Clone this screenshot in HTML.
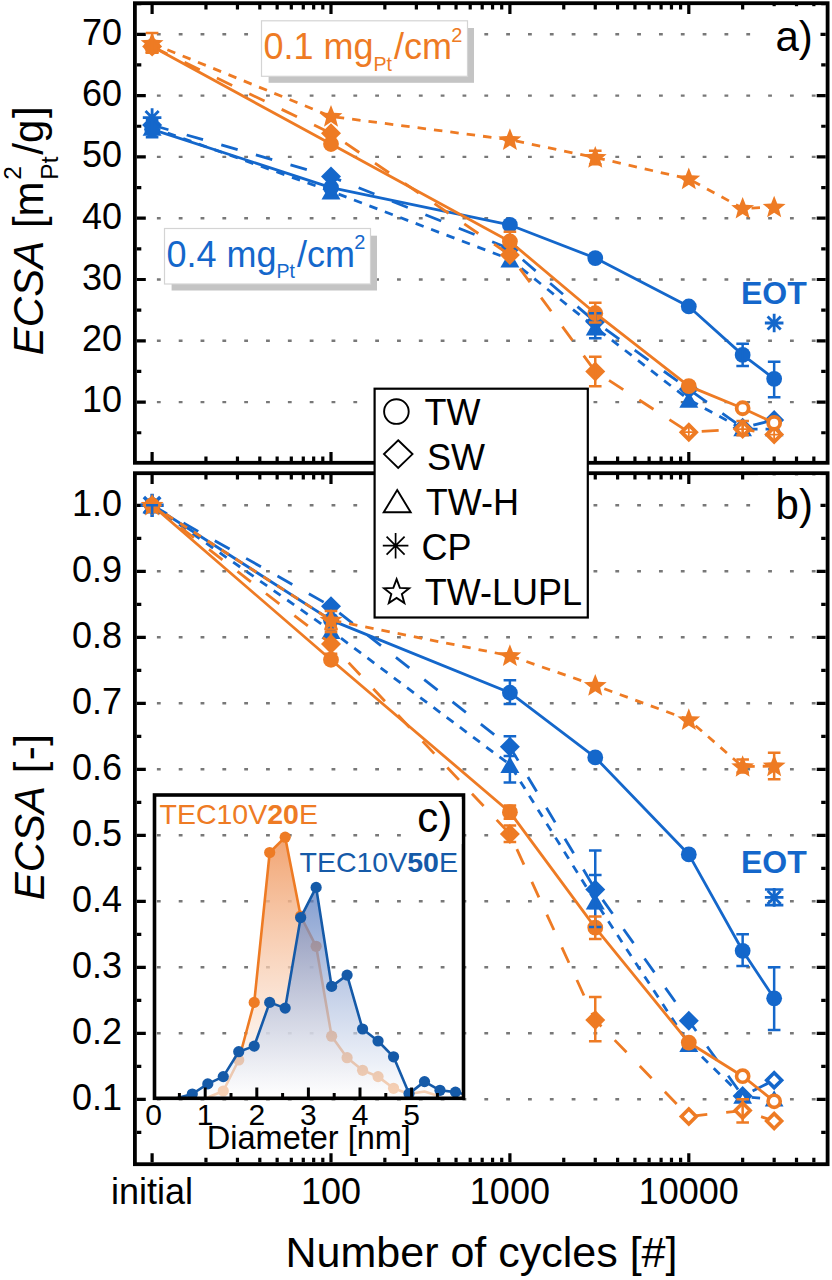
<!DOCTYPE html><html><head><meta charset="utf-8"><style>html,body{margin:0;padding:0;background:#fff;}svg{display:block;}</style></head><body><svg width="832" height="1280" viewBox="0 0 832 1280" font-family='"Liberation Sans", sans-serif'>
<rect width="832" height="1280" fill="#fff"/>
<line x1="156.9" y1="402.1" x2="824.6" y2="402.1" stroke="#787878" stroke-width="2.4" stroke-dasharray="3.8 18.03"/>
<line x1="156.9" y1="340.8" x2="824.6" y2="340.8" stroke="#787878" stroke-width="2.4" stroke-dasharray="3.8 18.03"/>
<line x1="156.9" y1="279.5" x2="824.6" y2="279.5" stroke="#787878" stroke-width="2.4" stroke-dasharray="3.8 18.03"/>
<line x1="156.9" y1="218.2" x2="824.6" y2="218.2" stroke="#787878" stroke-width="2.4" stroke-dasharray="3.8 18.03"/>
<line x1="156.9" y1="156.9" x2="824.6" y2="156.9" stroke="#787878" stroke-width="2.4" stroke-dasharray="3.8 18.03"/>
<line x1="156.9" y1="95.6" x2="824.6" y2="95.6" stroke="#787878" stroke-width="2.4" stroke-dasharray="3.8 18.03"/>
<line x1="156.9" y1="34.3" x2="824.6" y2="34.3" stroke="#787878" stroke-width="2.4" stroke-dasharray="3.8 18.03"/>
<line x1="156.9" y1="1099.3" x2="824.6" y2="1099.3" stroke="#787878" stroke-width="2.4" stroke-dasharray="3.8 18.03"/>
<line x1="156.9" y1="1033.3" x2="824.6" y2="1033.3" stroke="#787878" stroke-width="2.4" stroke-dasharray="3.8 18.03"/>
<line x1="156.9" y1="967.3" x2="824.6" y2="967.3" stroke="#787878" stroke-width="2.4" stroke-dasharray="3.8 18.03"/>
<line x1="156.9" y1="901.3" x2="824.6" y2="901.3" stroke="#787878" stroke-width="2.4" stroke-dasharray="3.8 18.03"/>
<line x1="156.9" y1="835.3" x2="824.6" y2="835.3" stroke="#787878" stroke-width="2.4" stroke-dasharray="3.8 18.03"/>
<line x1="156.9" y1="769.3" x2="824.6" y2="769.3" stroke="#787878" stroke-width="2.4" stroke-dasharray="3.8 18.03"/>
<line x1="156.9" y1="703.3" x2="824.6" y2="703.3" stroke="#787878" stroke-width="2.4" stroke-dasharray="3.8 18.03"/>
<line x1="156.9" y1="637.3" x2="824.6" y2="637.3" stroke="#787878" stroke-width="2.4" stroke-dasharray="3.8 18.03"/>
<line x1="156.9" y1="571.3" x2="824.6" y2="571.3" stroke="#787878" stroke-width="2.4" stroke-dasharray="3.8 18.03"/>
<line x1="156.9" y1="505.3" x2="824.6" y2="505.3" stroke="#787878" stroke-width="2.4" stroke-dasharray="3.8 18.03"/>
<defs><linearGradient id="gO" gradientUnits="userSpaceOnUse" x1="0" y1="837" x2="0" y2="1098"><stop offset="0" stop-color="#f09a62" stop-opacity="0.9"/><stop offset="1" stop-color="#ffffff" stop-opacity="0.6"/></linearGradient><linearGradient id="gB" gradientUnits="userSpaceOnUse" x1="0" y1="887" x2="0" y2="1098"><stop offset="0" stop-color="#5578bd" stop-opacity="0.74"/><stop offset="1" stop-color="#ffffff" stop-opacity="0.66"/></linearGradient><clipPath id="cI"><rect x="154.5" y="795" width="309" height="303.3"/></clipPath></defs>
<path d="M136.8 402.1h9M825.7 402.1h-9" stroke="#000" stroke-width="3.2"/>
<path d="M136.8 340.8h9M825.7 340.8h-9" stroke="#000" stroke-width="3.2"/>
<path d="M136.8 279.5h9M825.7 279.5h-9" stroke="#000" stroke-width="3.2"/>
<path d="M136.8 218.2h9M825.7 218.2h-9" stroke="#000" stroke-width="3.2"/>
<path d="M136.8 156.9h9M825.7 156.9h-9" stroke="#000" stroke-width="3.2"/>
<path d="M136.8 95.6h9M825.7 95.6h-9" stroke="#000" stroke-width="3.2"/>
<path d="M136.8 34.3h9M825.7 34.3h-9" stroke="#000" stroke-width="3.2"/>
<path d="M136.8 432.75h4.5M825.7 432.75h-4.5" stroke="#000" stroke-width="3.2"/>
<path d="M136.8 371.45h4.5M825.7 371.45h-4.5" stroke="#000" stroke-width="3.2"/>
<path d="M136.8 310.15h4.5M825.7 310.15h-4.5" stroke="#000" stroke-width="3.2"/>
<path d="M136.8 248.85h4.5M825.7 248.85h-4.5" stroke="#000" stroke-width="3.2"/>
<path d="M136.8 187.55h4.5M825.7 187.55h-4.5" stroke="#000" stroke-width="3.2"/>
<path d="M136.8 126.25h4.5M825.7 126.25h-4.5" stroke="#000" stroke-width="3.2"/>
<path d="M136.8 64.95h4.5M825.7 64.95h-4.5" stroke="#000" stroke-width="3.2"/>
<path d="M136.8 3.65h4.5M825.7 3.65h-4.5" stroke="#000" stroke-width="3.2"/>
<path d="M152.1 5.1v9M152.1 460.90000000000003v-9" stroke="#000" stroke-width="3.2"/>
<path d="M331 5.1v9M331 460.90000000000003v-9" stroke="#000" stroke-width="3.2"/>
<path d="M509.9 5.1v9M509.9 460.90000000000003v-9" stroke="#000" stroke-width="3.2"/>
<path d="M688.8 5.1v9M688.8 460.90000000000003v-9" stroke="#000" stroke-width="3.2"/>
<path d="M205.95 5.1v4.5M205.95 460.90000000000003v-4.5" stroke="#000" stroke-width="3.2"/>
<path d="M237.46 5.1v4.5M237.46 460.90000000000003v-4.5" stroke="#000" stroke-width="3.2"/>
<path d="M259.81 5.1v4.5M259.81 460.90000000000003v-4.5" stroke="#000" stroke-width="3.2"/>
<path d="M277.15 5.1v4.5M277.15 460.90000000000003v-4.5" stroke="#000" stroke-width="3.2"/>
<path d="M291.31 5.1v4.5M291.31 460.90000000000003v-4.5" stroke="#000" stroke-width="3.2"/>
<path d="M303.29 5.1v4.5M303.29 460.90000000000003v-4.5" stroke="#000" stroke-width="3.2"/>
<path d="M313.66 5.1v4.5M313.66 460.90000000000003v-4.5" stroke="#000" stroke-width="3.2"/>
<path d="M322.81 5.1v4.5M322.81 460.90000000000003v-4.5" stroke="#000" stroke-width="3.2"/>
<path d="M384.85 5.1v4.5M384.85 460.90000000000003v-4.5" stroke="#000" stroke-width="3.2"/>
<path d="M416.36 5.1v4.5M416.36 460.90000000000003v-4.5" stroke="#000" stroke-width="3.2"/>
<path d="M438.71 5.1v4.5M438.71 460.90000000000003v-4.5" stroke="#000" stroke-width="3.2"/>
<path d="M456.05 5.1v4.5M456.05 460.90000000000003v-4.5" stroke="#000" stroke-width="3.2"/>
<path d="M470.21 5.1v4.5M470.21 460.90000000000003v-4.5" stroke="#000" stroke-width="3.2"/>
<path d="M482.19 5.1v4.5M482.19 460.90000000000003v-4.5" stroke="#000" stroke-width="3.2"/>
<path d="M492.56 5.1v4.5M492.56 460.90000000000003v-4.5" stroke="#000" stroke-width="3.2"/>
<path d="M501.71 5.1v4.5M501.71 460.90000000000003v-4.5" stroke="#000" stroke-width="3.2"/>
<path d="M563.75 5.1v4.5M563.75 460.90000000000003v-4.5" stroke="#000" stroke-width="3.2"/>
<path d="M595.26 5.1v4.5M595.26 460.90000000000003v-4.5" stroke="#000" stroke-width="3.2"/>
<path d="M617.61 5.1v4.5M617.61 460.90000000000003v-4.5" stroke="#000" stroke-width="3.2"/>
<path d="M634.95 5.1v4.5M634.95 460.90000000000003v-4.5" stroke="#000" stroke-width="3.2"/>
<path d="M649.11 5.1v4.5M649.11 460.90000000000003v-4.5" stroke="#000" stroke-width="3.2"/>
<path d="M661.09 5.1v4.5M661.09 460.90000000000003v-4.5" stroke="#000" stroke-width="3.2"/>
<path d="M671.46 5.1v4.5M671.46 460.90000000000003v-4.5" stroke="#000" stroke-width="3.2"/>
<path d="M680.61 5.1v4.5M680.61 460.90000000000003v-4.5" stroke="#000" stroke-width="3.2"/>
<path d="M742.65 5.1v4.5M742.65 460.90000000000003v-4.5" stroke="#000" stroke-width="3.2"/>
<path d="M774.16 5.1v4.5M774.16 460.90000000000003v-4.5" stroke="#000" stroke-width="3.2"/>
<path d="M796.51 5.1v4.5M796.51 460.90000000000003v-4.5" stroke="#000" stroke-width="3.2"/>
<path d="M813.85 5.1v4.5M813.85 460.90000000000003v-4.5" stroke="#000" stroke-width="3.2"/>
<rect x="134.9" y="3.2" width="692.7" height="459.6" fill="none" stroke="#000" stroke-width="3.8"/>
<path d="M136.8 1099.3h9M825.7 1099.3h-9" stroke="#000" stroke-width="3.2"/>
<path d="M136.8 1033.3h9M825.7 1033.3h-9" stroke="#000" stroke-width="3.2"/>
<path d="M136.8 967.3h9M825.7 967.3h-9" stroke="#000" stroke-width="3.2"/>
<path d="M136.8 901.3h9M825.7 901.3h-9" stroke="#000" stroke-width="3.2"/>
<path d="M136.8 835.3h9M825.7 835.3h-9" stroke="#000" stroke-width="3.2"/>
<path d="M136.8 769.3h9M825.7 769.3h-9" stroke="#000" stroke-width="3.2"/>
<path d="M136.8 703.3h9M825.7 703.3h-9" stroke="#000" stroke-width="3.2"/>
<path d="M136.8 637.3h9M825.7 637.3h-9" stroke="#000" stroke-width="3.2"/>
<path d="M136.8 571.3h9M825.7 571.3h-9" stroke="#000" stroke-width="3.2"/>
<path d="M136.8 505.3h9M825.7 505.3h-9" stroke="#000" stroke-width="3.2"/>
<path d="M136.8 1132.3h4.5M825.7 1132.3h-4.5" stroke="#000" stroke-width="3.2"/>
<path d="M136.8 1066.3h4.5M825.7 1066.3h-4.5" stroke="#000" stroke-width="3.2"/>
<path d="M136.8 1000.3h4.5M825.7 1000.3h-4.5" stroke="#000" stroke-width="3.2"/>
<path d="M136.8 934.3h4.5M825.7 934.3h-4.5" stroke="#000" stroke-width="3.2"/>
<path d="M136.8 868.3h4.5M825.7 868.3h-4.5" stroke="#000" stroke-width="3.2"/>
<path d="M136.8 802.3h4.5M825.7 802.3h-4.5" stroke="#000" stroke-width="3.2"/>
<path d="M136.8 736.3h4.5M825.7 736.3h-4.5" stroke="#000" stroke-width="3.2"/>
<path d="M136.8 670.3h4.5M825.7 670.3h-4.5" stroke="#000" stroke-width="3.2"/>
<path d="M136.8 604.3h4.5M825.7 604.3h-4.5" stroke="#000" stroke-width="3.2"/>
<path d="M136.8 538.3h4.5M825.7 538.3h-4.5" stroke="#000" stroke-width="3.2"/>
<path d="M152.1 475.09999999999997v9M152.1 1162.3v-9" stroke="#000" stroke-width="3.2"/>
<path d="M331 475.09999999999997v9M331 1162.3v-9" stroke="#000" stroke-width="3.2"/>
<path d="M509.9 475.09999999999997v9M509.9 1162.3v-9" stroke="#000" stroke-width="3.2"/>
<path d="M688.8 475.09999999999997v9M688.8 1162.3v-9" stroke="#000" stroke-width="3.2"/>
<path d="M205.95 475.09999999999997v4.5M205.95 1162.3v-4.5" stroke="#000" stroke-width="3.2"/>
<path d="M237.46 475.09999999999997v4.5M237.46 1162.3v-4.5" stroke="#000" stroke-width="3.2"/>
<path d="M259.81 475.09999999999997v4.5M259.81 1162.3v-4.5" stroke="#000" stroke-width="3.2"/>
<path d="M277.15 475.09999999999997v4.5M277.15 1162.3v-4.5" stroke="#000" stroke-width="3.2"/>
<path d="M291.31 475.09999999999997v4.5M291.31 1162.3v-4.5" stroke="#000" stroke-width="3.2"/>
<path d="M303.29 475.09999999999997v4.5M303.29 1162.3v-4.5" stroke="#000" stroke-width="3.2"/>
<path d="M313.66 475.09999999999997v4.5M313.66 1162.3v-4.5" stroke="#000" stroke-width="3.2"/>
<path d="M322.81 475.09999999999997v4.5M322.81 1162.3v-4.5" stroke="#000" stroke-width="3.2"/>
<path d="M384.85 475.09999999999997v4.5M384.85 1162.3v-4.5" stroke="#000" stroke-width="3.2"/>
<path d="M416.36 475.09999999999997v4.5M416.36 1162.3v-4.5" stroke="#000" stroke-width="3.2"/>
<path d="M438.71 475.09999999999997v4.5M438.71 1162.3v-4.5" stroke="#000" stroke-width="3.2"/>
<path d="M456.05 475.09999999999997v4.5M456.05 1162.3v-4.5" stroke="#000" stroke-width="3.2"/>
<path d="M470.21 475.09999999999997v4.5M470.21 1162.3v-4.5" stroke="#000" stroke-width="3.2"/>
<path d="M482.19 475.09999999999997v4.5M482.19 1162.3v-4.5" stroke="#000" stroke-width="3.2"/>
<path d="M492.56 475.09999999999997v4.5M492.56 1162.3v-4.5" stroke="#000" stroke-width="3.2"/>
<path d="M501.71 475.09999999999997v4.5M501.71 1162.3v-4.5" stroke="#000" stroke-width="3.2"/>
<path d="M563.75 475.09999999999997v4.5M563.75 1162.3v-4.5" stroke="#000" stroke-width="3.2"/>
<path d="M595.26 475.09999999999997v4.5M595.26 1162.3v-4.5" stroke="#000" stroke-width="3.2"/>
<path d="M617.61 475.09999999999997v4.5M617.61 1162.3v-4.5" stroke="#000" stroke-width="3.2"/>
<path d="M634.95 475.09999999999997v4.5M634.95 1162.3v-4.5" stroke="#000" stroke-width="3.2"/>
<path d="M649.11 475.09999999999997v4.5M649.11 1162.3v-4.5" stroke="#000" stroke-width="3.2"/>
<path d="M661.09 475.09999999999997v4.5M661.09 1162.3v-4.5" stroke="#000" stroke-width="3.2"/>
<path d="M671.46 475.09999999999997v4.5M671.46 1162.3v-4.5" stroke="#000" stroke-width="3.2"/>
<path d="M680.61 475.09999999999997v4.5M680.61 1162.3v-4.5" stroke="#000" stroke-width="3.2"/>
<path d="M742.65 475.09999999999997v4.5M742.65 1162.3v-4.5" stroke="#000" stroke-width="3.2"/>
<path d="M774.16 475.09999999999997v4.5M774.16 1162.3v-4.5" stroke="#000" stroke-width="3.2"/>
<path d="M796.51 475.09999999999997v4.5M796.51 1162.3v-4.5" stroke="#000" stroke-width="3.2"/>
<path d="M813.85 475.09999999999997v4.5M813.85 1162.3v-4.5" stroke="#000" stroke-width="3.2"/>
<rect x="134.9" y="473.2" width="692.7" height="691.0" fill="none" stroke="#000" stroke-width="3.8"/>
<rect x="758" y="6.2" width="62.5" height="56" fill="#fff"/>
<rect x="758" y="475.3" width="62.5" height="55" fill="#fff"/>
<rect x="154.5" y="795" width="309" height="303.3" fill="none"/>
<g clip-path="url(#cI)">
<path d="M207.78 1098.3L207.78 1097.5L223.26 1091L238.74 1060L254.22 1002.4L269.7 852.5L285.18 837.2L300.66 916L316.14 946.3L331.62 1036.2L347.1 1057.7L362.58 1070.3L378.06 1076.6L393.54 1088.3L409.02 1094L424.5 1091.5L439.98 1096.5L439.98 1098.3Z" fill="url(#gO)"/>
<path d="M207.78 1097.5L223.26 1091L238.74 1060L254.22 1002.4L269.7 852.5L285.18 837.2L300.66 916L316.14 946.3L331.62 1036.2L347.1 1057.7L362.58 1070.3L378.06 1076.6L393.54 1088.3L409.02 1094L424.5 1091.5L439.98 1096.5" fill="none" stroke="#EE7B24" stroke-width="2.6" stroke-linejoin="round"/>
<circle cx="223.26" cy="1091" r="5.6" fill="#EE7B24"/>
<circle cx="238.74" cy="1060" r="5.6" fill="#EE7B24"/>
<circle cx="254.22" cy="1002.4" r="5.6" fill="#EE7B24"/>
<circle cx="269.7" cy="852.5" r="5.6" fill="#EE7B24"/>
<circle cx="285.18" cy="837.2" r="5.6" fill="#EE7B24"/>
<circle cx="300.66" cy="916" r="5.6" fill="#EE7B24"/>
<circle cx="316.14" cy="946.3" r="5.6" fill="#EE7B24"/>
<circle cx="331.62" cy="1036.2" r="5.6" fill="#EE7B24"/>
<circle cx="347.1" cy="1057.7" r="5.6" fill="#EE7B24"/>
<circle cx="362.58" cy="1070.3" r="5.6" fill="#EE7B24"/>
<circle cx="378.06" cy="1076.6" r="5.6" fill="#EE7B24"/>
<circle cx="393.54" cy="1088.3" r="5.6" fill="#EE7B24"/>
<path d="M176.82 1098.3L192.3 1094L207.78 1083.9L223.26 1076.6L238.74 1051.7L254.22 1046.1L269.7 1002.4L285.18 1008.1L300.66 917.6L316.14 887.4L331.62 986.4L347.1 975.1L362.58 1029L378.06 1041L393.54 1056.8L409.02 1093.6L424.5 1081.6L439.98 1090.3L455.46 1092.1L470.94 1098.3Z" fill="url(#gB)"/>
<path d="M176.82 1098.3L192.3 1094L207.78 1083.9L223.26 1076.6L238.74 1051.7L254.22 1046.1L269.7 1002.4L285.18 1008.1L300.66 917.6L316.14 887.4L331.62 986.4L347.1 975.1L362.58 1029L378.06 1041L393.54 1056.8L409.02 1093.6L424.5 1081.6L439.98 1090.3L455.46 1092.1L470.94 1096" fill="none" stroke="#155AA8" stroke-width="2.6" stroke-linejoin="round"/>
<circle cx="192.3" cy="1094" r="5.6" fill="#155AA8"/>
<circle cx="207.78" cy="1083.9" r="5.6" fill="#155AA8"/>
<circle cx="223.26" cy="1076.6" r="5.6" fill="#155AA8"/>
<circle cx="238.74" cy="1051.7" r="5.6" fill="#155AA8"/>
<circle cx="254.22" cy="1046.1" r="5.6" fill="#155AA8"/>
<circle cx="269.7" cy="1002.4" r="5.6" fill="#155AA8"/>
<circle cx="285.18" cy="1008.1" r="5.6" fill="#155AA8"/>
<circle cx="300.66" cy="917.6" r="5.6" fill="#155AA8"/>
<circle cx="316.14" cy="887.4" r="5.6" fill="#155AA8"/>
<circle cx="331.62" cy="986.4" r="5.6" fill="#155AA8"/>
<circle cx="347.1" cy="975.1" r="5.6" fill="#155AA8"/>
<circle cx="362.58" cy="1029" r="5.6" fill="#155AA8"/>
<circle cx="378.06" cy="1041" r="5.6" fill="#155AA8"/>
<circle cx="393.54" cy="1056.8" r="5.6" fill="#155AA8"/>
<circle cx="409.02" cy="1093.6" r="5.6" fill="#155AA8"/>
<circle cx="424.5" cy="1081.6" r="5.6" fill="#155AA8"/>
<circle cx="439.98" cy="1090.3" r="5.6" fill="#155AA8"/>
<circle cx="455.46" cy="1092.1" r="5.6" fill="#155AA8"/>
</g>
<path d="M205.2 1097V1087.5" stroke="#000" stroke-width="3"/>
<path d="M256.8 1097V1087.5" stroke="#000" stroke-width="3"/>
<path d="M308.4 1097V1087.5" stroke="#000" stroke-width="3"/>
<path d="M360 1097V1087.5" stroke="#000" stroke-width="3"/>
<path d="M411.6 1097V1087.5" stroke="#000" stroke-width="3"/>
<path d="M179.4 1097V1093" stroke="#000" stroke-width="3"/>
<path d="M231 1097V1093" stroke="#000" stroke-width="3"/>
<path d="M282.6 1097V1093" stroke="#000" stroke-width="3"/>
<path d="M334.2 1097V1093" stroke="#000" stroke-width="3"/>
<path d="M385.8 1097V1093" stroke="#000" stroke-width="3"/>
<path d="M437.4 1097V1093" stroke="#000" stroke-width="3"/>
<rect x="154.5" y="795" width="309" height="303.3" fill="none" stroke="#000" stroke-width="3.6"/>
<path d="M152.1 125.02L331 176.52L509.9 248.85L595.26 321.8L688.8 389.23L742.65 427.85L774.16 419.88" fill="none" stroke="#1467CB" stroke-width="2.8" stroke-dasharray="17 19" stroke-linejoin="round"/>
<path d="M152.1 115.02L162.1 125.02L152.1 135.02L142.1 125.02Z" fill="#1467CB"/>
<path d="M331 166.52L341 176.52L331 186.52L321 176.52Z" fill="#1467CB"/>
<path d="M509.9 238.85L519.9 248.85L509.9 258.85L499.9 248.85Z" fill="#1467CB"/>
<path d="M595.26 311.8L605.26 321.8L595.26 331.8L585.26 321.8Z" fill="#1467CB"/>
<path d="M688.8 379.23L698.8 389.23L688.8 399.23L678.8 389.23Z" fill="#1467CB"/>
<path d="M742.65 417.85L752.65 427.85L742.65 437.85L732.65 427.85Z" fill="#1467CB"/>
<path d="M774.16 409.88L784.16 419.88L774.16 429.88L764.16 419.88Z" fill="#1467CB"/>
<path d="M152.1 127.48L331 191.23L509.9 259.27L595.26 327.31L688.8 399.65L742.65 429.07L774.16 429.07" fill="none" stroke="#1467CB" stroke-width="2.8" stroke-dasharray="8.5 8" stroke-linejoin="round"/>
<path d="M152.1 119.28L161.6 135.68L142.6 135.68Z" fill="#1467CB"/>
<path d="M331 183.03L340.5 199.43L321.5 199.43Z" fill="#1467CB"/>
<path d="M509.9 251.07L519.4 267.47L500.4 267.47Z" fill="#1467CB"/>
<path d="M595.26 319.11L604.76 335.51L585.76 335.51Z" fill="#1467CB"/>
<path d="M688.8 391.45L698.3 407.85L679.3 407.85Z" fill="#1467CB"/>
<path d="M742.65 423.82L748.73 434.32L736.57 434.32Z" fill="#fff" stroke="#1467CB" stroke-width="3.8"/>
<path d="M774.16 423.82L780.24 434.32L768.08 434.32Z" fill="#fff" stroke="#1467CB" stroke-width="3.8"/>
<path d="M152.1 129.31L331 187.55L509.9 224.94L595.26 258.05L688.8 306.47L742.65 354.9L774.16 378.81" fill="none" stroke="#1467CB" stroke-width="2.8" stroke-linejoin="round"/>
<circle cx="152.1" cy="129.31" r="7.9" fill="#1467CB"/>
<circle cx="331" cy="187.55" r="7.9" fill="#1467CB"/>
<circle cx="509.9" cy="224.94" r="7.9" fill="#1467CB"/>
<circle cx="595.26" cy="258.05" r="7.9" fill="#1467CB"/>
<circle cx="688.8" cy="306.47" r="7.9" fill="#1467CB"/>
<circle cx="742.65" cy="354.9" r="7.9" fill="#1467CB"/>
<circle cx="774.16" cy="378.81" r="7.9" fill="#1467CB"/>
<path d="M142.8 117.67L161.4 117.67M145.52 111.09L158.68 124.24M152.1 108.37L152.1 126.97M158.68 111.09L145.52 124.24" stroke="#1467CB" stroke-width="2.8" fill="none"/>
<path d="M764.86 323.02L783.46 323.02M767.58 316.45L780.73 329.6M774.16 313.72L774.16 332.32M780.73 316.45L767.58 329.6" stroke="#1467CB" stroke-width="2.8" fill="none"/>
<path d="M152.1 46.56L331 133.3L509.9 254.98L595.26 371.45L688.8 432.14L742.65 429.07L774.16 434.59" fill="none" stroke="#EE7B24" stroke-width="2.8" stroke-dasharray="17 19" stroke-linejoin="round"/>
<path d="M152.1 36.56L162.1 46.56L152.1 56.56L142.1 46.56Z" fill="#EE7B24"/>
<path d="M331 123.3L341 133.3L331 143.3L321 133.3Z" fill="#EE7B24"/>
<path d="M509.9 244.98L519.9 254.98L509.9 264.98L499.9 254.98Z" fill="#EE7B24"/>
<path d="M595.26 361.45L605.26 371.45L595.26 381.45L585.26 371.45Z" fill="#EE7B24"/>
<path d="M688.8 424.82L696.11 432.14L688.8 439.45L681.49 432.14Z" fill="#fff" stroke="#EE7B24" stroke-width="3.8"/>
<path d="M688.8 427.14V437.14M683.8 432.14H693.8" stroke="#EE7B24" stroke-width="1.8"/>
<path d="M742.65 421.76L749.97 429.07L742.65 436.39L735.34 429.07Z" fill="#fff" stroke="#EE7B24" stroke-width="3.8"/>
<path d="M742.65 424.07V434.07M737.65 429.07H747.65" stroke="#EE7B24" stroke-width="1.8"/>
<path d="M774.16 427.28L781.47 434.59L774.16 441.9L766.84 434.59Z" fill="#fff" stroke="#EE7B24" stroke-width="3.8"/>
<path d="M774.16 429.59V439.59M769.16 434.59H779.16" stroke="#EE7B24" stroke-width="1.8"/>
<path d="M152.1 46.56L331 144.03L509.9 241.49L595.26 313.22L688.8 386.16L742.65 408.23L774.16 422.94" fill="none" stroke="#EE7B24" stroke-width="2.8" stroke-linejoin="round"/>
<circle cx="152.1" cy="46.56" r="7.9" fill="#EE7B24"/>
<circle cx="331" cy="144.03" r="7.9" fill="#EE7B24"/>
<circle cx="509.9" cy="241.49" r="7.9" fill="#EE7B24"/>
<circle cx="595.26" cy="313.22" r="7.9" fill="#EE7B24"/>
<circle cx="688.8" cy="386.16" r="7.9" fill="#EE7B24"/>
<circle cx="742.65" cy="408.23" r="6" fill="#fff" stroke="#EE7B24" stroke-width="3.8"/>
<circle cx="774.16" cy="422.94" r="6" fill="#fff" stroke="#EE7B24" stroke-width="3.8"/>
<path d="M152.1 43.49L331 116.44L509.9 139.74L595.26 157.51L688.8 178.97L742.65 208.39L774.16 207.17" fill="none" stroke="#EE7B24" stroke-width="2.8" stroke-dasharray="8.5 8" stroke-linejoin="round"/>
<path d="M152.1 31.99L155.13 39.82L163.51 40.29L157.01 45.59L159.15 53.7L152.1 49.16L145.05 53.7L147.19 45.59L140.69 40.29L149.07 39.82Z" fill="#EE7B24"/>
<path d="M331 104.94L334.03 112.77L342.41 113.23L335.91 118.54L338.05 126.65L331 122.1L323.95 126.65L326.09 118.54L319.59 113.23L327.97 112.77Z" fill="#EE7B24"/>
<path d="M509.9 128.24L512.93 136.06L521.31 136.53L514.81 141.83L516.95 149.94L509.9 145.4L502.85 149.94L504.99 141.83L498.49 136.53L506.87 136.06Z" fill="#EE7B24"/>
<path d="M595.26 146.01L598.29 153.84L606.67 154.3L600.16 159.61L602.31 167.72L595.26 163.17L588.2 167.72L590.35 159.61L583.84 154.3L592.22 153.84Z" fill="#EE7B24"/>
<path d="M688.8 167.47L691.83 175.29L700.21 175.76L693.71 181.06L695.85 189.18L688.8 184.63L681.75 189.18L683.89 181.06L677.39 175.76L685.77 175.29Z" fill="#EE7B24"/>
<path d="M742.65 196.89L745.69 204.72L754.07 205.18L747.56 210.49L749.71 218.6L742.65 214.05L735.6 218.6L737.75 210.49L731.24 205.18L739.62 204.72Z" fill="#EE7B24"/>
<path d="M774.16 195.67L777.19 203.49L785.57 203.96L779.06 209.26L781.21 217.37L774.16 212.83L767.1 217.37L769.25 209.26L762.74 203.96L771.12 203.49Z" fill="#EE7B24"/>
<path d="M595.26 313.22V338.35M588.96 313.22H601.56M588.96 338.35H601.56" stroke="#1467CB" stroke-width="2.5" fill="none"/>
<path d="M152.1 120.12V137.28M145.8 120.12H158.4M145.8 137.28H158.4" stroke="#1467CB" stroke-width="2.5" fill="none"/>
<path d="M742.65 343.87V365.93M736.35 343.87H748.95M736.35 365.93H748.95" stroke="#1467CB" stroke-width="2.5" fill="none"/>
<path d="M774.16 361.64V397.2M767.86 361.64H780.46M767.86 397.2H780.46" stroke="#1467CB" stroke-width="2.5" fill="none"/>
<path d="M595.26 356.74V386.16M588.96 356.74H601.56M588.96 386.16H601.56" stroke="#EE7B24" stroke-width="2.5" fill="none"/>
<path d="M742.65 421.1V435.2M736.35 421.1H748.95M736.35 435.2H748.95" stroke="#EE7B24" stroke-width="2.5" fill="none"/>
<path d="M509.9 231.69V251.3M503.6 231.69H516.2M503.6 251.3H516.2" stroke="#EE7B24" stroke-width="2.5" fill="none"/>
<path d="M595.26 302.79V322.41M588.96 302.79H601.56M588.96 322.41H601.56" stroke="#EE7B24" stroke-width="2.5" fill="none"/>
<path d="M152.1 33.07V52.69M145.8 33.07H158.4M145.8 52.69H158.4" stroke="#EE7B24" stroke-width="2.5" fill="none"/>
<path d="M595.26 150.77V164.26M588.96 150.77H601.56M588.96 164.26H601.56" stroke="#EE7B24" stroke-width="2.5" fill="none"/>
<path d="M152.1 505.3L331 606.28L509.9 746.86L595.26 889.42L688.8 1020.76L742.65 1096L774.16 1080.16" fill="none" stroke="#1467CB" stroke-width="2.8" stroke-dasharray="17 19" stroke-linejoin="round"/>
<path d="M152.1 495.3L162.1 505.3L152.1 515.3L142.1 505.3Z" fill="#1467CB"/>
<path d="M331 596.28L341 606.28L331 616.28L321 606.28Z" fill="#1467CB"/>
<path d="M509.9 736.86L519.9 746.86L509.9 756.86L499.9 746.86Z" fill="#1467CB"/>
<path d="M595.26 879.42L605.26 889.42L595.26 899.42L585.26 889.42Z" fill="#1467CB"/>
<path d="M688.8 1010.76L698.8 1020.76L688.8 1030.76L678.8 1020.76Z" fill="#1467CB"/>
<path d="M742.65 1086L752.65 1096L742.65 1106L732.65 1096Z" fill="#1467CB"/>
<path d="M774.16 1072.71L781.61 1080.16L774.16 1087.61L766.7 1080.16Z" fill="#fff" stroke="#1467CB" stroke-width="3.6"/>
<path d="M152.1 505.3L331 630.7L509.9 764.68L595.26 901.3L688.8 1043.86L742.65 1096.66L774.16 1099.3" fill="none" stroke="#1467CB" stroke-width="2.8" stroke-dasharray="8.5 8" stroke-linejoin="round"/>
<path d="M152.1 497.1L161.6 513.5L142.6 513.5Z" fill="#1467CB"/>
<path d="M331 622.5L340.5 638.9L321.5 638.9Z" fill="#1467CB"/>
<path d="M509.9 756.48L519.4 772.88L500.4 772.88Z" fill="#1467CB"/>
<path d="M595.26 893.1L604.76 909.5L585.76 909.5Z" fill="#1467CB"/>
<path d="M688.8 1035.66L698.3 1052.06L679.3 1052.06Z" fill="#1467CB"/>
<path d="M742.65 1091.26L748.91 1102.06L736.39 1102.06Z" fill="#fff" stroke="#1467CB" stroke-width="3.6"/>
<path d="M774.16 1093.9L780.42 1104.7L767.9 1104.7Z" fill="#fff" stroke="#1467CB" stroke-width="3.6"/>
<path d="M152.1 505.3L331 620.14L509.9 692.74L595.26 757.42L688.8 854.44L742.65 950.8L774.16 998.32" fill="none" stroke="#1467CB" stroke-width="2.8" stroke-linejoin="round"/>
<circle cx="152.1" cy="505.3" r="7.9" fill="#1467CB"/>
<circle cx="331" cy="620.14" r="7.9" fill="#1467CB"/>
<circle cx="509.9" cy="692.74" r="7.9" fill="#1467CB"/>
<circle cx="595.26" cy="757.42" r="7.9" fill="#1467CB"/>
<circle cx="688.8" cy="854.44" r="7.9" fill="#1467CB"/>
<circle cx="742.65" cy="950.8" r="7.9" fill="#1467CB"/>
<circle cx="774.16" cy="998.32" r="7.9" fill="#1467CB"/>
<path d="M140.47 505.3L163.72 505.3M143.88 497.08L160.32 513.52M152.1 493.68L152.1 516.92M160.32 497.08L143.88 513.52" stroke="#1467CB" stroke-width="3.5" fill="none"/>
<path d="M764.86 897.34L783.46 897.34M767.58 890.76L780.73 903.92M774.16 888.04L774.16 906.64M780.73 890.76L767.58 903.92" stroke="#1467CB" stroke-width="2.8" fill="none"/>
<path d="M774.16 889.54V905.14M764.96 889.54H783.36M764.96 905.14H783.36" stroke="#1467CB" stroke-width="2.6" fill="none"/>
<path d="M152.1 505.3L331 643.9L509.9 833.98L595.26 1020.1L688.8 1116.46L742.65 1110.52L774.16 1121.08" fill="none" stroke="#EE7B24" stroke-width="2.8" stroke-dasharray="17 19" stroke-linejoin="round"/>
<path d="M152.1 495.3L162.1 505.3L152.1 515.3L142.1 505.3Z" fill="#EE7B24"/>
<path d="M331 633.9L341 643.9L331 653.9L321 643.9Z" fill="#EE7B24"/>
<path d="M509.9 823.98L519.9 833.98L509.9 843.98L499.9 833.98Z" fill="#EE7B24"/>
<path d="M595.26 1010.1L605.26 1020.1L595.26 1030.1L585.26 1020.1Z" fill="#EE7B24"/>
<path d="M688.8 1109.01L696.25 1116.46L688.8 1123.91L681.35 1116.46Z" fill="#fff" stroke="#EE7B24" stroke-width="3.6"/>
<path d="M742.65 1103.07L750.11 1110.52L742.65 1117.97L735.2 1110.52Z" fill="#fff" stroke="#EE7B24" stroke-width="3.6"/>
<path d="M774.16 1113.63L781.61 1121.08L774.16 1128.53L766.7 1121.08Z" fill="#fff" stroke="#EE7B24" stroke-width="3.6"/>
<path d="M152.1 505.3L331 659.74L509.9 812.2L595.26 927.7L688.8 1042.54L742.65 1076.2L774.16 1101.28" fill="none" stroke="#EE7B24" stroke-width="2.8" stroke-linejoin="round"/>
<circle cx="152.1" cy="505.3" r="7.9" fill="#EE7B24"/>
<circle cx="331" cy="659.74" r="7.9" fill="#EE7B24"/>
<circle cx="509.9" cy="812.2" r="7.9" fill="#EE7B24"/>
<circle cx="595.26" cy="927.7" r="7.9" fill="#EE7B24"/>
<circle cx="688.8" cy="1042.54" r="7.9" fill="#EE7B24"/>
<circle cx="742.65" cy="1076.2" r="6.1" fill="#fff" stroke="#EE7B24" stroke-width="3.6"/>
<circle cx="774.16" cy="1101.28" r="6.1" fill="#fff" stroke="#EE7B24" stroke-width="3.6"/>
<path d="M152.1 505.3L331 620.14L509.9 655.78L595.26 685.48L688.8 719.8L742.65 766.66L774.16 766" fill="none" stroke="#EE7B24" stroke-width="2.8" stroke-dasharray="8.5 8" stroke-linejoin="round"/>
<path d="M152.1 493.8L155.13 501.63L163.51 502.09L157.01 507.39L159.15 515.51L152.1 510.96L145.05 515.51L147.19 507.39L140.69 502.09L149.07 501.63Z" fill="#EE7B24"/>
<path d="M331 608.64L334.03 616.47L342.41 616.93L335.91 622.23L338.05 630.35L331 625.8L323.95 630.35L326.09 622.23L319.59 616.93L327.97 616.47Z" fill="#EE7B24"/>
<path d="M509.9 644.28L512.93 652.11L521.31 652.57L514.81 657.87L516.95 665.99L509.9 661.44L502.85 665.99L504.99 657.87L498.49 652.57L506.87 652.11Z" fill="#EE7B24"/>
<path d="M595.26 673.98L598.29 681.81L606.67 682.27L600.16 687.57L602.31 695.69L595.26 691.14L588.2 695.69L590.35 687.57L583.84 682.27L592.22 681.81Z" fill="#EE7B24"/>
<path d="M688.8 708.3L691.83 716.13L700.21 716.59L693.71 721.89L695.85 730.01L688.8 725.46L681.75 730.01L683.89 721.89L677.39 716.59L685.77 716.13Z" fill="#EE7B24"/>
<path d="M742.65 755.16L745.69 762.99L754.07 763.45L747.56 768.75L749.71 776.87L742.65 772.32L735.6 776.87L737.75 768.75L731.24 763.45L739.62 762.99Z" fill="#EE7B24"/>
<path d="M774.16 754.5L777.19 762.33L785.57 762.79L779.06 768.09L781.21 776.21L774.16 771.66L767.1 776.21L769.25 768.09L762.74 762.79L771.12 762.33Z" fill="#EE7B24"/>
<path d="M152.1 505.3V514.6M146.1 505.3H158.1" stroke="#1467CB" stroke-width="2.6" fill="none"/>
<path d="M509.9 736.3V756.1M503.6 736.3H516.2M503.6 756.1H516.2" stroke="#1467CB" stroke-width="2.5" fill="none"/>
<path d="M595.26 850.48V907.9M588.96 850.48H601.56M588.96 907.9H601.56" stroke="#1467CB" stroke-width="2.5" fill="none"/>
<path d="M509.9 747.52V782.5M503.6 747.52H516.2M503.6 782.5H516.2" stroke="#1467CB" stroke-width="2.5" fill="none"/>
<path d="M595.26 874.9V927.04M588.96 874.9H601.56M588.96 927.04H601.56" stroke="#1467CB" stroke-width="2.5" fill="none"/>
<path d="M509.9 680.2V703.96M503.6 680.2H516.2M503.6 703.96H516.2" stroke="#1467CB" stroke-width="2.5" fill="none"/>
<path d="M742.65 934.3V965.98M736.35 934.3H748.95M736.35 965.98H748.95" stroke="#1467CB" stroke-width="2.5" fill="none"/>
<path d="M774.16 967.3V1030M767.86 967.3H780.46M767.86 1030H780.46" stroke="#1467CB" stroke-width="2.5" fill="none"/>
<path d="M595.26 997V1041.22M588.96 997H601.56M588.96 1041.22H601.56" stroke="#EE7B24" stroke-width="2.5" fill="none"/>
<path d="M509.9 825.4V841.9M503.6 825.4H516.2M503.6 841.9H516.2" stroke="#EE7B24" stroke-width="2.5" fill="none"/>
<path d="M742.65 1099.3V1122.4M736.35 1099.3H748.95M736.35 1122.4H748.95" stroke="#EE7B24" stroke-width="2.5" fill="none"/>
<path d="M331 632.02V653.8M324.7 632.02H337.3M324.7 653.8H337.3" stroke="#EE7B24" stroke-width="2.5" fill="none"/>
<path d="M595.26 916.48V938.92M588.96 916.48H601.56M588.96 938.92H601.56" stroke="#EE7B24" stroke-width="2.5" fill="none"/>
<path d="M509.9 805.6V818.8M503.6 805.6H516.2M503.6 818.8H516.2" stroke="#EE7B24" stroke-width="2.5" fill="none"/>
<path d="M774.16 752.8V779.2M767.86 752.8H780.46M767.86 779.2H780.46" stroke="#EE7B24" stroke-width="2.5" fill="none"/>
<path d="M742.65 759.4V772.6M736.35 759.4H748.95M736.35 772.6H748.95" stroke="#EE7B24" stroke-width="2.5" fill="none"/>
<path d="M331 610.9V629.38M324.7 610.9H337.3M324.7 629.38H337.3" stroke="#EE7B24" stroke-width="2.5" fill="none"/>
<text x="122" y="412.4" font-size="36" text-anchor="end">10</text>
<text x="122" y="351.1" font-size="36" text-anchor="end">20</text>
<text x="122" y="289.8" font-size="36" text-anchor="end">30</text>
<text x="122" y="228.5" font-size="36" text-anchor="end">40</text>
<text x="122" y="167.2" font-size="36" text-anchor="end">50</text>
<text x="122" y="105.9" font-size="36" text-anchor="end">60</text>
<text x="122" y="44.6" font-size="36" text-anchor="end">70</text>
<text x="122" y="1109.6" font-size="36" text-anchor="end">0.1</text>
<text x="122" y="1043.6" font-size="36" text-anchor="end">0.2</text>
<text x="122" y="977.6" font-size="36" text-anchor="end">0.3</text>
<text x="122" y="911.6" font-size="36" text-anchor="end">0.4</text>
<text x="122" y="845.6" font-size="36" text-anchor="end">0.5</text>
<text x="122" y="779.6" font-size="36" text-anchor="end">0.6</text>
<text x="122" y="713.6" font-size="36" text-anchor="end">0.7</text>
<text x="122" y="647.6" font-size="36" text-anchor="end">0.8</text>
<text x="122" y="581.6" font-size="36" text-anchor="end">0.9</text>
<text x="122" y="515.6" font-size="36" text-anchor="end">1.0</text>
<text x="152.1" y="1204.2" font-size="36" text-anchor="middle">initial</text>
<text x="331" y="1204.2" font-size="36" text-anchor="middle">100</text>
<text x="509.9" y="1204.2" font-size="36" text-anchor="middle">1000</text>
<text x="688.8" y="1204.2" font-size="36" text-anchor="middle">10000</text>
<text x="481.5" y="1267" font-size="43" text-anchor="middle">Number of cycles [#]</text>
<g transform="translate(42.8 354.2) rotate(-90)" font-size="42"><text x="-1" y="0" font-style="italic">ECSA</text><text x="126.1" y="0">[</text><text x="137.7" y="0">m</text><text x="174.4" y="-21.7" font-size="24.5">2</text><text x="174.5" y="14.7" font-size="24.5">Pt</text><text x="199.4" y="0">/</text><text x="211.2" y="0">g</text><text x="236.2" y="0">]</text></g>
<g transform="translate(44.4 899.3) rotate(-90)" font-size="42"><text x="-1" y="0" font-style="italic">ECSA</text><text x="126" y="0">[</text><text x="139" y="0">-</text><text x="153.5" y="0">]</text></g>
<text x="775.4" y="51" font-size="42">a)</text>
<text x="775.6" y="518.7" font-size="42">b)</text>
<text x="741" y="303.6" font-size="32" font-weight="bold" fill="#1467CB">EOT</text>
<text x="741" y="872.7" font-size="32" font-weight="bold" fill="#1467CB">EOT</text>
<rect x="268.6" y="28" width="205.4" height="54.8" fill="#c4c4c4"/><rect x="261.5" y="20.8" width="206" height="55.5" fill="#fff" stroke="#d4d4d4" stroke-width="1.2"/><g fill="#EE7B24"><text x="263.4" y="59.3" font-size="36">0.1 mg</text><text x="373.4" y="70.5" font-size="19.5">Pt</text><text x="393.9" y="59.3" font-size="36">/cm</text><text x="451.3" y="41.7" font-size="20">2</text></g>
<g transform="translate(-97 207.7)"><rect x="268.6" y="28" width="205.4" height="54.8" fill="#c4c4c4"/><rect x="261.5" y="20.8" width="206" height="55.5" fill="#fff" stroke="#d4d4d4" stroke-width="1.2"/><g fill="#1467CB"><text x="263.4" y="59.3" font-size="36">0.4 mg</text><text x="373.4" y="70.5" font-size="19.5">Pt</text><text x="393.9" y="59.3" font-size="36">/cm</text><text x="451.3" y="41.7" font-size="20">2</text></g></g>
<rect x="374.6" y="388.7" width="213.2" height="228.8" fill="#fff" stroke="#000" stroke-width="2.2"/>
<circle cx="396.4" cy="411.6" r="12.3" fill="none" stroke="#000" stroke-width="1.9"/>
<path d="M398.2 440.3L412.5 454.1L398.2 468L384 454.1Z" fill="none" stroke="#000" stroke-width="1.9"/>
<path d="M397.2 490L410.7 512.3L383.7 512.3Z" fill="none" stroke="#000" stroke-width="1.9"/>
<path d="M395.6 533V558.5M382.8 545.6H408.4M386.6 536.6L404.6 554.6M404.6 536.6L386.6 554.6" fill="none" stroke="#000" stroke-width="1.7"/>
<path d="M396.6 579.2L399.86 587.91L409.15 588.32L401.87 594.11L404.36 603.08L396.6 597.94L388.84 603.08L391.33 594.11L384.05 588.32L393.34 587.91Z" fill="none" stroke="#000" stroke-width="1.9"/>
<text x="424.4" y="425.3" font-size="36">TW</text>
<text x="427" y="469.5" font-size="36">SW</text>
<text x="425.8" y="515.4" font-size="36">TW-H</text>
<text x="421.5" y="560" font-size="36">CP</text>
<text x="424.7" y="605" font-size="36">TW-LUPL</text>
<text x="153.6" y="1125" font-size="30" text-anchor="middle">0</text>
<text x="205.2" y="1125" font-size="30" text-anchor="middle">1</text>
<text x="256.8" y="1125" font-size="30" text-anchor="middle">2</text>
<text x="308.4" y="1125" font-size="30" text-anchor="middle">3</text>
<text x="360" y="1125" font-size="30" text-anchor="middle">4</text>
<text x="411.6" y="1125" font-size="30" text-anchor="middle">5</text>
<text x="206.8" y="1149" font-size="32.5">Diameter [nm]</text>
<text x="159.5" y="824" font-size="28.5" fill="#EE7B24">TEC10V<tspan font-weight="bold">20</tspan>E</text>
<text x="299.5" y="872.3" font-size="28.5" fill="#155AA8">TEC10V<tspan font-weight="bold">50</tspan>E</text>
<rect x="406" y="799" width="55.5" height="45" fill="#fff"/>
<text x="417.3" y="832" font-size="42">c)</text>
</svg></body></html>
